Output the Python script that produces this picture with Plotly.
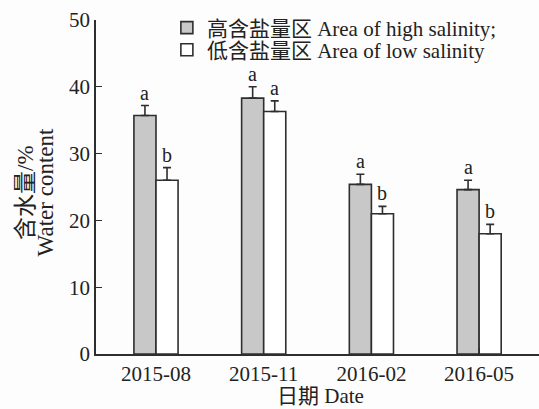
import plotly.graph_objects as go

# Sampling dates
dates = ["2015-08", "2015-11", "2016-02", "2016-05"]

# Water content (%) and upward standard errors
high_salinity = [35.7, 38.3, 25.4, 24.6]
high_err = [1.5, 1.7, 1.5, 1.4]
low_salinity = [26.0, 36.3, 21.0, 18.0]
low_err = [1.9, 1.6, 1.1, 1.4]

# Significance letters
high_letters = ["a", "a", "a", "a"]
low_letters = ["b", "a", "b", "b"]

FONT = "Liberation Serif, Times New Roman, Noto Sans CJK SC, serif"
EDGE = "#2e2e2e"

fig = go.Figure()

fig.add_trace(go.Bar(
    x=dates, y=high_salinity, name="高含盐量区 Area of high salinity;", legend="legend",
    marker=dict(color="#c8c8c8", line=dict(color=EDGE, width=1.6)),
    error_y=dict(type="data", array=high_err, arrayminus=[0] * 4, symmetric=False,
                 color=EDGE, thickness=1.6, width=4),
))
fig.add_trace(go.Bar(
    x=dates, y=low_salinity, name="低含盐量区 Area of low salinity", legend="legend2",
    marker=dict(color="#ffffff", line=dict(color=EDGE, width=1.6)),
    error_y=dict(type="data", array=low_err, arrayminus=[0] * 4, symmetric=False,
                 color=EDGE, thickness=1.6, width=4),
))

# Letters above the error bars
offset = 0.205 / 2
for i, d in enumerate(dates):
    for val, err, lab, dx in ((high_salinity[i], high_err[i], high_letters[i], -offset),
                               (low_salinity[i], low_err[i], low_letters[i], offset)):
        fig.add_annotation(x=i + dx, y=val + err, text=lab, showarrow=False,
                           yanchor="bottom", yshift=0, xref="x", yref="y",
                           font=dict(family=FONT, size=20, color="#222"))

# Two-line y-axis title, each line placed on its own
for txt, xp in (("含水量/%", -0.159), ("Water content", -0.115)):
    fig.add_annotation(x=xp, y=0.484, xref="paper", yref="paper", text=txt,
                       textangle=-90, showarrow=False, xanchor="center", yanchor="middle",
                       font=dict(family=FONT, size=23, color="#222"))

# x-axis title
fig.add_annotation(x=0.506, y=-0.127, xref="paper", yref="paper", text="日期 Date",
                   showarrow=False, xanchor="center", yanchor="middle",
                   font=dict(family=FONT, size=21, color="#222"))

legend_style = dict(x=0.160, xanchor="left", yanchor="middle",
                    bgcolor="rgba(0,0,0,0)", borderwidth=0,
                    font=dict(family=FONT, size=21, color="#222"))

fig.update_layout(
    width=539, height=409,
    margin=dict(l=96, r=0, t=20, b=55),
    paper_bgcolor="#fdfdfd", plot_bgcolor="#fdfdfd",
    barmode="group", bargap=0.59, bargroupgap=0,
    font=dict(family=FONT, size=20, color="#222"),
    showlegend=True,
    legend=dict(y=0.976, **legend_style),
    legend2=dict(y=0.910, **legend_style),
    xaxis=dict(type="category", range=[-0.557, 3.556], showline=True, linecolor=EDGE,
               linewidth=1.6, ticks="inside", ticklen=6, tickcolor=EDGE, showgrid=False,
               zeroline=False, tickfont=dict(size=21), automargin=False),
    yaxis=dict(range=[0, 50], dtick=10, showline=True, linecolor=EDGE, linewidth=1.6,
               ticks="inside", ticklen=6, tickcolor=EDGE, showgrid=False, zeroline=False,
               tickfont=dict(size=21), automargin=False),
)

fig.write_html("out.html")
